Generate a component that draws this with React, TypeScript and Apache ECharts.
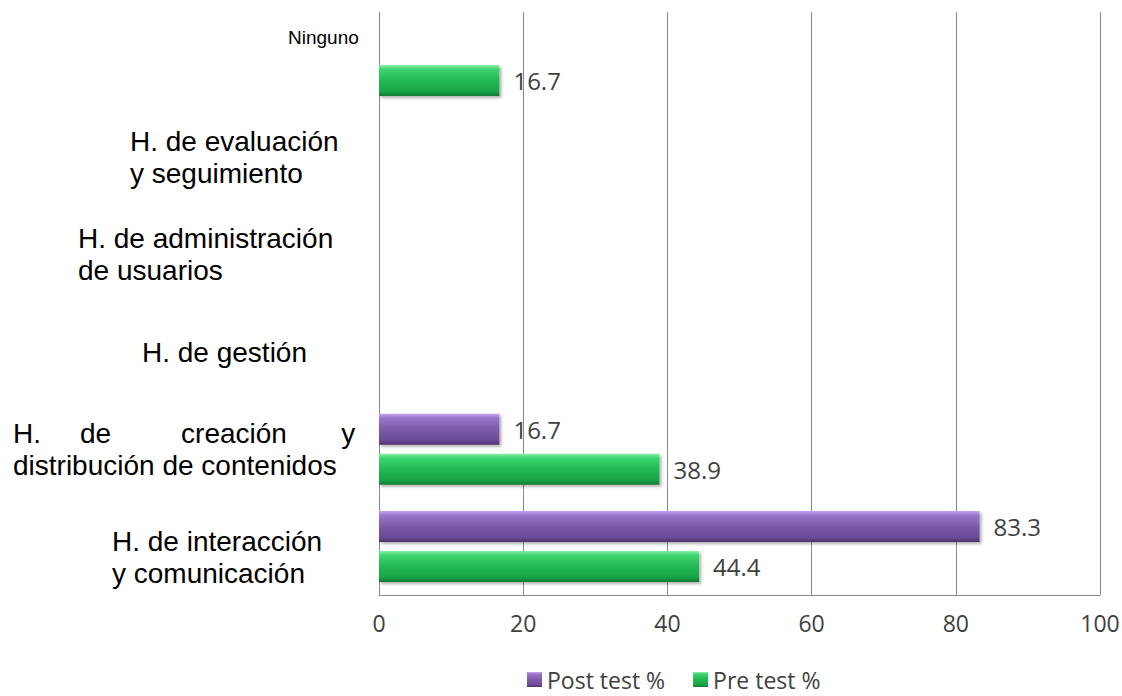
import React, { useEffect, useRef } from "react";
import * as echarts from "echarts";

// Categories, bottom to top
const categories = [
  "H. de interacción\ny comunicación",
  "H.     de         creación       y\ndistribución de contenidos",
  "H. de gestión",
  "H. de administración\nde usuarios",
  "H. de evaluación\ny seguimiento",
  "Ninguno",
];
const postTest = [83.3, 16.7, 0, 0, 0, 0];
const preTest = [44.4, 38.9, 0, 0, 0, 16.7];
const seriesNames = ["Post test %", "Pre test %"];
const xTicks = { min: 0, max: 100, interval: 20 };

const purple = new echarts.graphic.LinearGradient(0, 0, 0, 1, [
  { offset: 0, color: "#C7A3F2" },
  { offset: 0.14, color: "#9A76C9" },
  { offset: 0.5, color: "#7E5BA9" },
  { offset: 0.86, color: "#6A4A94" },
  { offset: 1, color: "#4A3169" },
]);
const green = new echarts.graphic.LinearGradient(0, 0, 0, 1, [
  { offset: 0, color: "#86F2A8" },
  { offset: 0.14, color: "#3DD46F" },
  { offset: 0.5, color: "#22B954" },
  { offset: 0.86, color: "#19A247" },
  { offset: 1, color: "#117632" },
]);

const leftPads = [99, 0, 129, 65, 117, 275];

export default function App() {
  const ref = useRef<HTMLDivElement>(null);
  useEffect(() => {
    if (!ref.current) return;
    const chart = echarts.init(ref.current, null, { renderer: "svg" });
    const rich: Record<string, any> = {
      sp22: { fontSize: 10, lineHeight: 22 },
      sp46: { fontSize: 10, lineHeight: 46 },
    };
    leftPads.forEach((p, i) => {
      rich["c" + i] = {
        fontFamily: "Liberation Sans",
        fontSize: i === 5 ? 19 : 28,
        lineHeight: i === 5 ? 22 : 32,
        color: "#000",
        padding: [0, 0, 0, p],
      };
    });
    const valueLabel = {
      show: true,
      position: "right",
      distance: 14,
      color: "#404040",
      fontFamily: "Open Sans",
      fontSize: 24,
      formatter: (p: any) => (p.value ? String(p.value) : ""),
    };
    const shadow = {
      shadowBlur: 3,
      shadowOffsetX: 2,
      shadowOffsetY: 2,
      shadowColor: "rgba(0,0,0,0.3)",
    };
    chart.setOption({
      animation: false,
      backgroundColor: "#fff",
      grid: { left: 379, right: 22, top: 12, bottom: 101, outerBoundsMode: "none" },
      legend: {
        data: seriesNames,
        bottom: 0,
        left: 522,
        icon: "rect",
        itemWidth: 15,
        itemHeight: 15,
        itemGap: 28,
        textStyle: { color: "#404040", fontFamily: "Open Sans", fontSize: 23 },
      },
      xAxis: {
        type: "value",
        min: xTicks.min,
        max: xTicks.max,
        interval: xTicks.interval,
        axisLine: { show: true, lineStyle: { color: "#8a8a8a" } },
        axisTick: { show: false },
        splitLine: { show: true, lineStyle: { color: "#8a8a8a" } },
        axisLabel: {
          color: "#404040",
          fontFamily: "Open Sans",
          fontSize: 23,
          margin: 16,
        },
      },
      yAxis: {
        type: "category",
        data: categories,
        axisLine: { show: true, lineStyle: { color: "#8a8a8a" } },
        axisTick: { show: false },
        splitLine: { show: false },
        axisLabel: {
          align: "left",
          margin: 366,
          formatter: (value: string, index: number) => {
            const lines = value.split("\n").map((l) => `{c${index}|${l}}`);
            if (index === 0) return `{sp22| }\n` + lines.join("\n");
            if (index === 5) return lines.join("\n") + `\n{sp46| }`;
            return lines.join("\n");
          },
          rich,
        },
      },
      series: [
        {
          name: seriesNames[0],
          type: "bar",
          data: postTest,
          barWidth: 31,
          barGap: "29%",
          itemStyle: { color: purple, ...shadow },
          label: valueLabel,
        },
        {
          name: seriesNames[1],
          type: "bar",
          data: preTest,
          barWidth: 31,
          barGap: "29%",
          itemStyle: { color: green, ...shadow },
          label: valueLabel,
        },
      ],
    });
    return () => chart.dispose();
  }, []);
  return (
    <div
      ref={ref}
      style={{ position: "fixed", left: 0, top: 0, width: 1122, height: 696 }}
    />
  );
}
